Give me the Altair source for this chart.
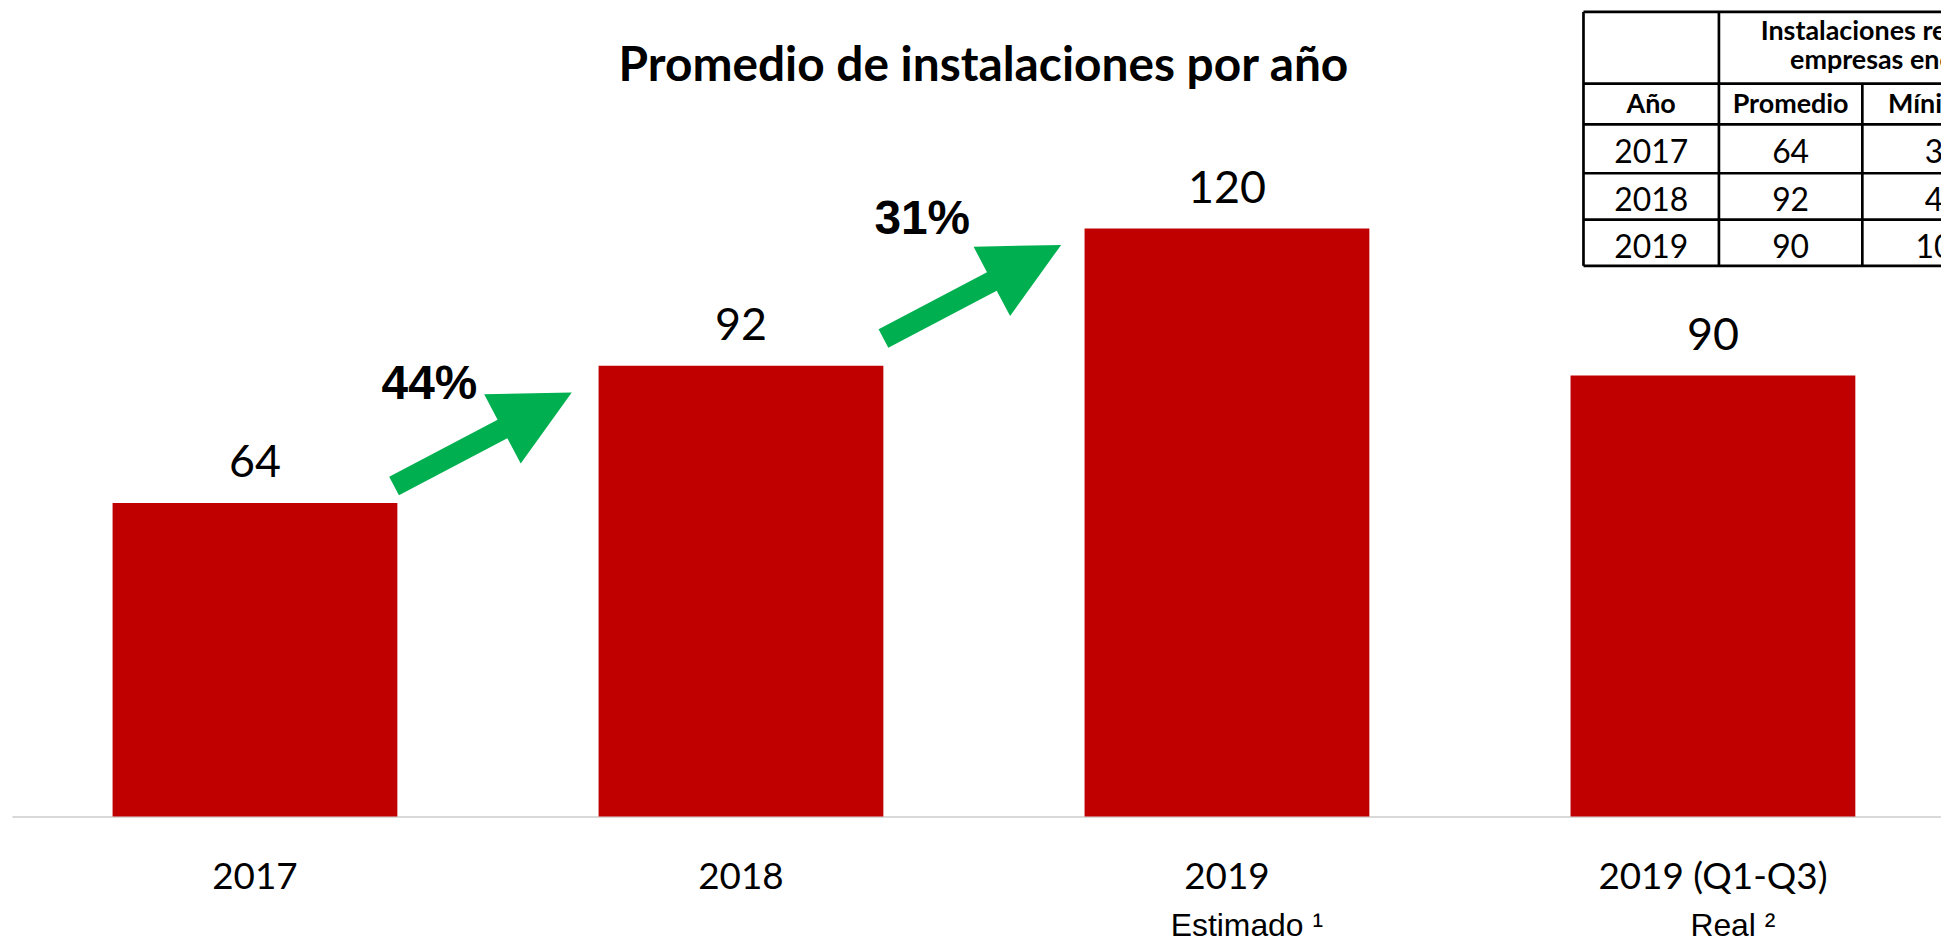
import altair as alt
import pandas as pd

# ---------------- data ----------------
categories = ["2017", "2018", "2019", "2019 (Q1-Q3)"]
values = [64, 92, 120, 90]
sublabels = ["", "", "Estimado \u00b9", "Real \u00b2"]

pct_labels = ["44%", "31%"]
pct_x = [0.859, 1.873]      # position in bar-step units
pct_y = [85.3, 118.9]       # position in value units
arrow_x = [0.969, 1.976]
arrow_y = [77.0, 107.1]

table_group = ["Instalaciones realizadas por", "empresas encuestadas"]
table_head = ["Año", "Promedio", "Mínimo"]
table_years = ["2017", "2018", "2019"]
table_avg = [64, 92, 90]
table_min = [3, 4, 10]

TITLE = "Promedio de instalaciones por año"

# ---------------- layout ----------------
PAD_L, PAD_T, PAD_R, PAD_B = 4, 1, 0, 120
W, H = 1937, 809
X_RANGE = 1952
Y_MAX = 164.4
X0, Y0 = 8 + PAD_L, 8 + PAD_T  # page position of plot origin

RED = "#C00000"
GREEN = "#00B050"

col_edges = [1590, 1726, 1870, 2014]
row_edges = [10, 82, 123, 172, 218.5, 265]

# ---------------- tables ----------------
df = pd.DataFrame({"cat": categories, "value": values, "sub": sublabels})
df_arrow = pd.DataFrame({"x": arrow_x, "y": arrow_y})
df_pct = pd.DataFrame({"x": pct_x, "y": pct_y, "t": pct_labels})

x_band = alt.Scale(domain=categories, range=[0, X_RANGE], paddingInner=0.414, paddingOuter=0.207)
y_scale = alt.Scale(domain=[0, Y_MAX], nice=False, zero=True)
x_lin = alt.Scale(domain=[0, 4], range=[0, X_RANGE], nice=False, zero=False)

bars = alt.Chart(df).mark_bar(color=RED).encode(
    x=alt.X("cat:N", scale=x_band, sort=categories, title=None,
            axis=alt.Axis(labelFont="Lato", labelFontSize=37, labelColor="#000000",
                          labelAngle=0, labelBaseline="alphabetic", labelPadding=72,
                          labelLimit=0, ticks=False, tickSize=0,
                          domainColor="#D9D9D9", domainWidth=2, grid=False)),
    y=alt.Y("value:Q", scale=y_scale, axis=None),
)

bar_labels = alt.Chart(df).mark_text(
    font="Lato", fontSize=45, baseline="alphabetic", dy=-26, color="#000000"
).encode(
    x=alt.X("cat:N", scale=x_band, sort=categories, axis=None),
    y=alt.Y("value:Q", scale=y_scale, axis=None),
    text="value:Q",
)

sub_labels = alt.Chart(df).mark_text(
    font="Liberation Sans", fontSize=32, baseline="alphabetic", dx=20, color="#000000"
).encode(
    x=alt.X("cat:N", scale=x_band, sort=categories, axis=None),
    y=alt.value(938 - Y0),
    text="sub:N",
)

arrow_path = "M-1,-0.104L0.22,-0.104L0.22,-0.39L1,0L0.22,0.39L0.22,0.104L-1,0.104Z"
arrows = alt.Chart(df_arrow).mark_point(
    shape=arrow_path, filled=True, size=40683, angle=332.2, color=GREEN, opacity=1, strokeWidth=0
).encode(
    x=alt.X("x:Q", scale=x_lin, axis=None),
    y=alt.Y("y:Q", scale=y_scale, axis=None),
)

pct = alt.Chart(df_pct).mark_text(
    font="Liberation Sans", fontSize=48, fontWeight="bold", baseline="alphabetic", color="#000000"
).encode(
    x=alt.X("x:Q", scale=x_lin, axis=None),
    y=alt.Y("y:Q", scale=y_scale, axis=None),
    text="t:N",
)

# table grid
segs = []
for ry in row_edges:
    segs.append({"x": col_edges[0] - X0, "x2": col_edges[-1] - X0, "y": ry - Y0, "y2": ry - Y0})
for i, cx in enumerate(col_edges[:-1]):
    top = row_edges[0] if i < 2 else row_edges[1]
    segs.append({"x": cx - X0, "x2": cx - X0, "y": top - Y0, "y2": row_edges[-1] - Y0})
df_grid = pd.DataFrame(segs)

grid = alt.Chart(df_grid).mark_rule(color="#000000", strokeWidth=2.7).encode(
    x=alt.X("x:Q", scale=None), x2="x2:Q",
    y=alt.Y("y:Q", scale=None), y2="y2:Q",
)

col_centers = [(col_edges[i] + col_edges[i + 1]) / 2 for i in range(3)]
group_center = col_edges[1] + 1.5 * (col_edges[2] - col_edges[1]) - 10
head_rows = []
for k, line in enumerate(table_group):
    head_rows.append({"x": group_center - X0, "y": [38, 67][k] - Y0, "t": line})
for k, h in enumerate(table_head):
    head_rows.append({"x": col_centers[k] - X0, "y": 112 - Y0, "t": h})
df_head = pd.DataFrame(head_rows)

data_rows = []
row_base = [162, 210, 257]
for r in range(3):
    for k, v in enumerate([table_years[r], table_avg[r], table_min[r]]):
        data_rows.append({"x": col_centers[k] - X0, "y": row_base[r] - Y0, "t": str(v)})
df_cells = pd.DataFrame(data_rows)

head_text = alt.Chart(df_head).mark_text(
    font="Lato", fontSize=27, fontWeight="bold", baseline="alphabetic", color="#000000"
).encode(
    x=alt.X("x:Q", scale=None), y=alt.Y("y:Q", scale=None), text="t:N"
)
cell_text = alt.Chart(df_cells).mark_text(
    font="Lato", fontSize=32, baseline="alphabetic", color="#000000"
).encode(
    x=alt.X("x:Q", scale=None), y=alt.Y("y:Q", scale=None), text="t:N"
)

chart = alt.layer(
    bars, bar_labels, sub_labels, arrows, pct, grid, head_text, cell_text
).resolve_scale(x="independent").properties(
    width=W, height=H,
    background="#FFFFFF",
    title=alt.TitleParams(TITLE, font="Lato", fontSize=48, fontWeight="bold", color="#000000",
                          anchor="middle", frame="group", offset=0, baseline="alphabetic",
                          dy=119, dx=7),
    autosize=alt.AutoSizeParams(type="none"),
    padding={"left": PAD_L, "top": PAD_T, "right": PAD_R, "bottom": PAD_B},
).configure_view(stroke=None, strokeWidth=0)

chart.save("out.html", embed_options={"renderer": "svg", "actions": False})
